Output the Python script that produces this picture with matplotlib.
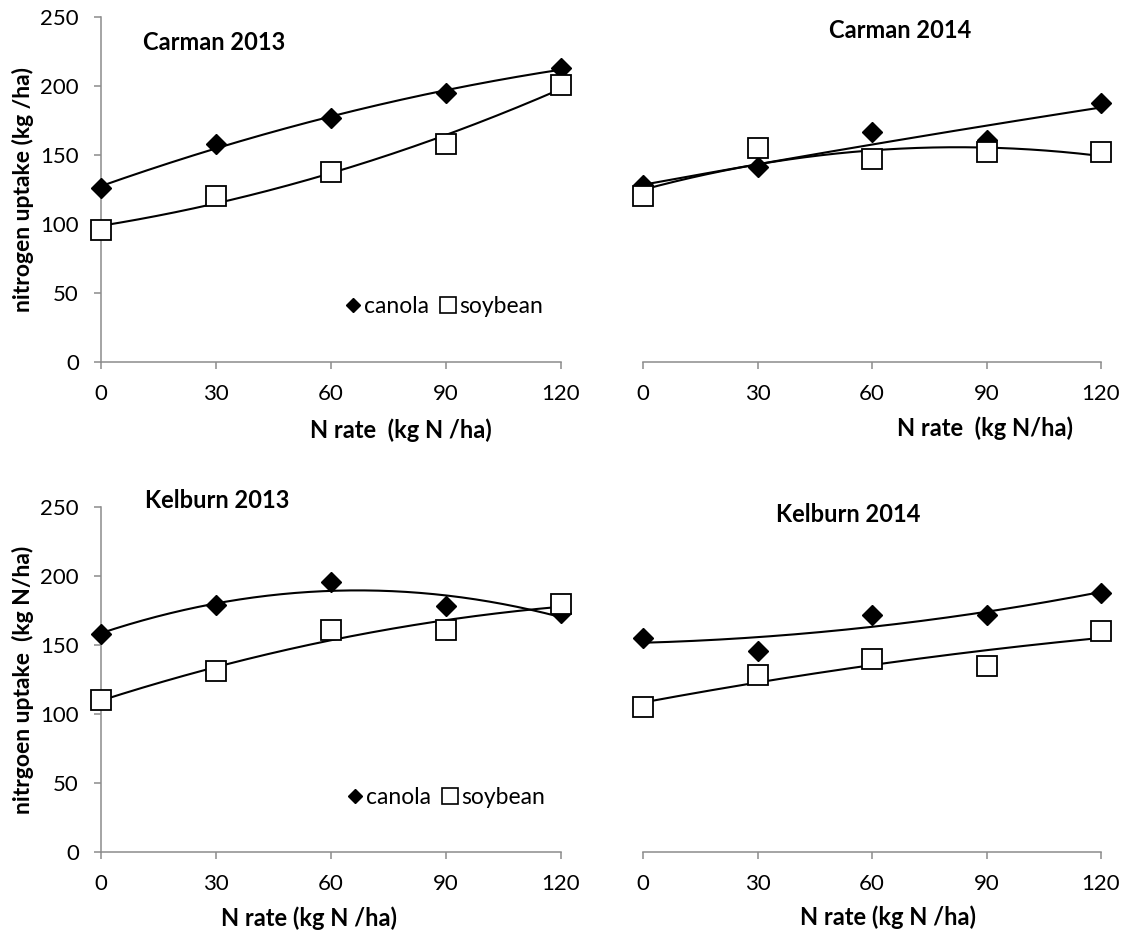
import numpy as np
import matplotlib
matplotlib.use("Agg")
import matplotlib.pyplot as plt
from matplotlib.lines import Line2D

plt.rcParams['font.family'] = ['Lato', 'DejaVu Sans']

# N application rates (kg N/ha)
n_rate = [0, 30, 60, 90, 120]

# Nitrogen uptake by site-year
carman13_canola = [126, 158, 177, 195, 213]
carman13_soybean = [96, 120, 138, 158, 201]
carman14_canola = [128, 141, 167, 161, 188]
carman14_soybean = [120, 155, 147, 152, 152]
kelburn13_canola = [158, 179, 196, 178, 173]
kelburn13_soybean = [110, 131, 161, 161, 180]
kelburn14_canola = [155, 146, 172, 172, 188]
kelburn14_soybean = [105, 128, 140, 135, 160]

y_ticks = [0, 50, 100, 150, 200, 250]
x_ticks = [0, 30, 60, 90, 120]

W, H = 1121, 934
fig = plt.figure(figsize=(W / 100, H / 100), dpi=100)

GRAY = '#8c8c8c'


def px(x, y):
    return x / W, 1 - y / H


def add_panel(rect, canola, soybean, show_y):
    ax = fig.add_axes(rect)
    x = np.array(n_rate, dtype=float)
    xs = np.linspace(0, 120, 200)
    # second-order polynomial trend for each crop
    for vals in (canola, soybean):
        coef = np.polyfit(x, vals, 2)
        ax.plot(xs, np.polyval(coef, xs), color='black', lw=1.5, zorder=2,
                clip_on=False)
    ax.plot(x, canola, ls='none', marker='D', ms=10, color='black', zorder=3,
            clip_on=False)
    ax.plot(x, soybean, ls='none', marker='s', ms=14, mfc='white',
            mec='black', mew=1.3, zorder=3, clip_on=False)
    ax.set_xlim(0, 120)
    ax.set_ylim(0, 250)
    ax.set_xticks(x_ticks)
    ax.set_yticks(y_ticks)
    for s in ('top', 'right'):
        ax.spines[s].set_visible(False)
    ax.spines['bottom'].set_color(GRAY)
    ax.spines['bottom'].set_linewidth(1.1)
    ax.spines['left'].set_color(GRAY)
    ax.spines['left'].set_linewidth(1.1)
    ax.tick_params(axis='x', direction='out', length=5, width=1.1,
                   color=GRAY, labelsize=16, pad=11)
    ax.tick_params(axis='y', direction='out', length=5, width=1.1,
                   color=GRAY, labelsize=16, pad=11)
    if not show_y:
        ax.spines['left'].set_visible(False)
        ax.tick_params(axis='y', left=False, labelleft=False)
    ax.patch.set_alpha(0)
    return ax


def add_legend(ax, x_center, y_center):
    handles = [
        Line2D([], [], ls='none', marker='D', ms=7.5, color='black'),
        Line2D([], [], ls='none', marker='s', ms=11, mfc='white',
               mec='black', mew=1.2),
    ]
    ax.legend(handles, ['canola', 'soybean'], loc='center',
              bbox_to_anchor=(x_center, y_center), ncol=2, frameon=False,
              handlelength=0.55, handletextpad=0.2, columnspacing=0.55,
              fontsize=16.5, borderpad=0)


left_x, right_x = 101, 643
left_w, right_w = 460, 458
top_y, bot_y = 362, 852
ph = 345

ax_tl = add_panel([left_x / W, 1 - top_y / H, left_w / W, ph / H],
                  carman13_canola, carman13_soybean, True)
ax_tr = add_panel([right_x / W, 1 - top_y / H, right_w / W, ph / H],
                  carman14_canola, carman14_soybean, False)
ax_bl = add_panel([left_x / W, 1 - bot_y / H, left_w / W, ph / H],
                  kelburn13_canola, kelburn13_soybean, True)
ax_br = add_panel([right_x / W, 1 - bot_y / H, right_w / W, ph / H],
                  kelburn14_canola, kelburn14_soybean, False)

add_legend(ax_tl, 0.748, 0.16)
add_legend(ax_bl, 0.752, 0.157)

bold = dict(fontsize=17, fontweight='bold', ha='center', va='center')
ybold = dict(bold, fontsize=16.5)

# Panel titles
fig.text(*px(214, 43), 'Carman 2013', **bold)
fig.text(*px(900, 30), 'Carman 2014', **bold)
fig.text(*px(217, 500), 'Kelburn 2013', **bold)
fig.text(*px(848, 515), 'Kelburn 2014', **bold)

# Axis titles
fig.text(*px(401, 430), 'N rate  (kg N /ha)', **bold)
fig.text(*px(985, 428), 'N rate  (kg N/ha)', **bold)
fig.text(*px(309, 918), 'N rate (kg N /ha)', **bold)
fig.text(*px(888, 917), 'N rate (kg N /ha)', **bold)
fig.text(*px(23, 190), 'nitrogen uptake (kg /ha)', rotation=90, **ybold)
fig.text(*px(23, 680), 'nitrgoen uptake  (kg N/ha)', rotation=90, **ybold)

fig.savefig('out.png', dpi=100)
